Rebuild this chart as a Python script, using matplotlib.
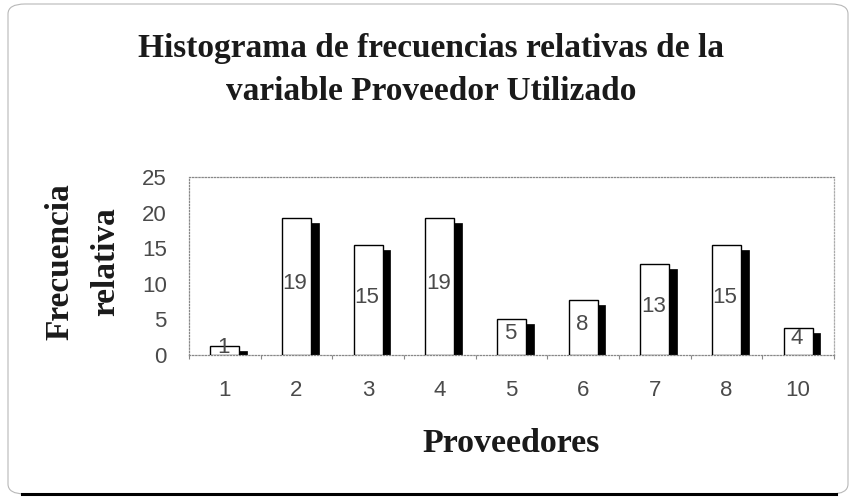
import matplotlib
matplotlib.use("Agg")
import matplotlib.pyplot as plt
from matplotlib.patches import FancyBboxPatch
from matplotlib.lines import Line2D
import numpy as np

# ---- data ----
categories = ['1', '2', '3', '4', '5', '6', '7', '8', '10']
values = [1.3, 19.2, 15.4, 19.2, 5.1, 7.7, 12.8, 15.4, 3.8]
bar_labels = [f"{v:.0f}" for v in values]
yticks = [0, 5, 10, 15, 20, 25]

title_lines = ["Histograma de frecuencias relativas de la", "variable Proveedor Utilizado"]
xlabel = "Proveedores"
ylabel_lines = ["Frecuencia", "relativa"]

W, H = 850, 498
fig = plt.figure(figsize=(W / 100, H / 100), dpi=100)
fig.patch.set_facecolor('white')

# outer rounded frame
frame = FancyBboxPatch((8 / W, 4 / H), (840 / W), (490 / H),
                       boxstyle="round,pad=0,rounding_size=0.02",
                       transform=fig.transFigure, facecolor='none',
                       edgecolor='#b8b8b8', linewidth=0.8, zorder=-1)
fig.patches.append(frame)
fig.lines.append(Line2D([22 / W, 836 / W], [4 / H, 4 / H], transform=fig.transFigure,
                        color='black', linewidth=2.2))

ax = fig.add_axes([189 / W, 1 - 355 / H, (834 - 189) / W, (355 - 177) / H])
ax.set_facecolor('white')

x = np.arange(len(categories))
wbar = 0.405
wshadow = 0.107
drop = 0.7
shadow_h = [max(v - drop, 0) for v in values]

ax.bar(x + wbar / 2 + wshadow / 2, shadow_h, width=wshadow, color='black',
       edgecolor='black', linewidth=0.5, zorder=2)
ax.bar(x, values, width=wbar, color='white', edgecolor='black', linewidth=1.0, zorder=3)

for xi, v, lab in zip(x, values, bar_labels):
    ax.text(xi - 0.02, v / 2 + 0.4, lab, ha='center', va='center',
            fontsize=16, color='#4a4a4a', family='Liberation Sans', zorder=4)

ax.set_xlim(-0.5, len(categories) - 0.5)
ax.set_ylim(0, 25)
ax.set_yticks(yticks)
ax.set_yticklabels([str(t) for t in yticks])
ax.set_xticks(x)
ax.set_xticklabels(categories)
ax.set_xticks(np.arange(len(categories) + 1) - 0.5, minor=True)

for lab in ax.get_xticklabels() + ax.get_yticklabels():
    lab.set_family('Liberation Sans')
    lab.set_fontsize(16)
    lab.set_color('#4a4a4a')

ax.tick_params(axis='x', which='major', length=0, pad=18)
ax.tick_params(axis='x', which='minor', length=3, color='#888888', width=0.8)
ax.tick_params(axis='y', which='major', length=0, pad=16)

for s in ax.spines.values():
    s.set_linestyle((0, (1, 1.5)))
    s.set_color('#888888')
    s.set_linewidth(0.9)
ax.spines['right'].set_color('#aaaaaa')

for line, yb in zip(title_lines, [57, 100]):
    fig.text(431 / W, 1 - yb / H, line, ha='center', va='baseline', fontsize=24,
             family='Liberation Serif', weight='bold', color='#1a1a1a')
fig.text(511 / W, 1 - 443 / H, xlabel, ha='center', va='center', fontsize=24.5,
         family='Liberation Serif', weight='bold', color='#1a1a1a')
for line, xc in zip(ylabel_lines, [60, 106]):
    fig.text(xc / W, 1 - 262 / H, line, ha='center', va='center', fontsize=24,
             family='Liberation Serif', weight='bold', color='#1a1a1a', rotation=90)

fig.savefig('out.png', dpi=100, facecolor='white')
